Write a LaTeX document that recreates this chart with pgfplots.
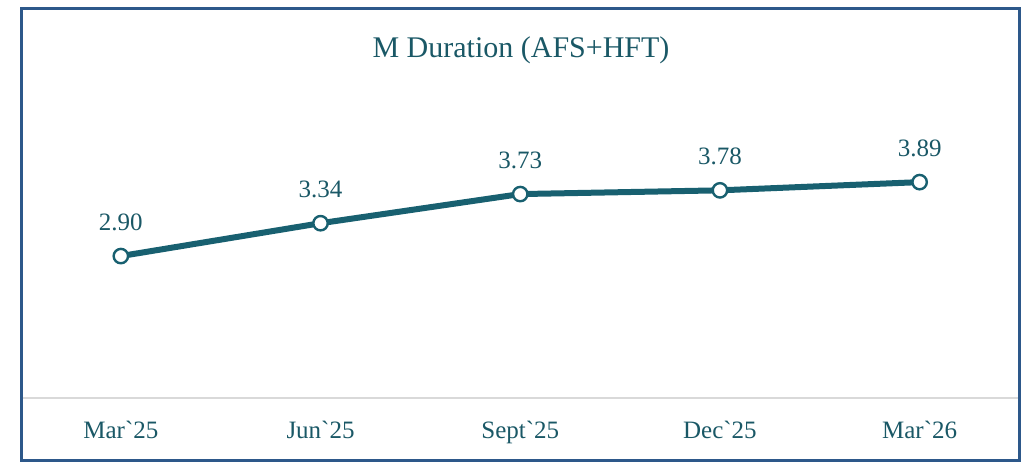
\documentclass[border=0pt]{standalone}
\usepackage{fontspec}
\setmainfont{Liberation Serif}
\usepackage{pgfplots}
\pgfplotsset{compat=1.18}
\definecolor{lineteal}{RGB}{24,96,112}
\definecolor{framecol}{RGB}{45,88,138}
\definecolor{txtcol}{RGB}{26,88,102}
\begin{document}
\begin{tikzpicture}
\path[use as bounding box] (0,0) rectangle (512.5pt,231pt);
\begin{axis}[
  at={(10.5pt,32pt)}, anchor=south west,
  scale only axis, width=499.25pt, height=149.4pt,
  xmin=-0.5, xmax=4.5, ymin=1, ymax=5,
  axis x line*=bottom, axis y line=none,
  x axis line style={draw=black!15, line width=1pt, -},
  xtick={0,1,2,3,4},
  xticklabels={Mar\textasciigrave 25,Jun\textasciigrave 25,Sept\textasciigrave 25,Dec\textasciigrave 25,Mar\textasciigrave 26},
  ytick=\empty,
  major tick length=0pt,
  xticklabel style={font=\fontsize{12.5}{14}\selectfont, text=txtcol, anchor=base, yshift=-20pt},
  clip=false,
  point meta=explicit symbolic,
  nodes near coords,
  nodes near coords style={font=\fontsize{12.5}{14}\selectfont, text=txtcol, anchor=base, yshift=13pt, inner sep=0pt},
]
\addplot[lineteal, line width=3pt, mark=*, mark size=3.6pt,
  mark options={fill=white, draw=lineteal, line width=1.2pt}]
  coordinates {(0,2.90)[2.90] (1,3.34)[3.34] (2,3.73)[3.73] (3,3.78)[3.78] (4,3.89)[3.89]};
\end{axis}
\node[anchor=base, text=txtcol, font=\fontsize{15}{17}\selectfont] at (260.5pt,202.5pt) {M Duration (AFS+HFT)};
\draw[framecol, line width=1.5pt] (10.5pt,0.75pt) rectangle (509.75pt,227pt);
\end{tikzpicture}
\end{document}
